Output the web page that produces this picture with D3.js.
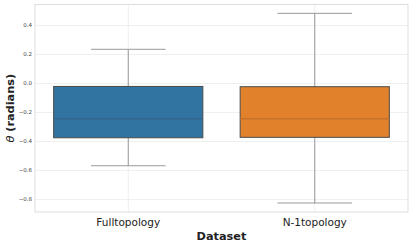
<!DOCTYPE html>
<html>
<head>
<meta charset="utf-8">
<script src="https://cdn.jsdelivr.net/npm/d3@7"></script>
<style>
  body { margin: 0; background: #fff; }
  text { font-family: "DejaVu Sans", sans-serif; }
</style>
</head>
<body>
<div id="chart"></div>
<script>
// data
const datasets = ["Fulltopology", "N-1topology"];
const whiskerLow = [-0.567, -0.824];
const q1 = [-0.374, -0.371];
const medians = [-0.243, -0.243];
const q3 = [-0.02, -0.022];
const whiskerHigh = [0.236, 0.484];
const yTicks = [-0.8, -0.6, -0.4, -0.2, 0.0, 0.2, 0.4];

const fills = ["#3274a1", "#e1812c"];
const medianColors = ["#35668d", "#c5722f"];

const width = 412,
	height = 246,
	margin = { top: 4.5, right: 4, bottom: 34, left: 35 };

const svg = d3
	.select("#chart")
	.append("svg")
	.attr("width", width)
	.attr("height", height);

const x = d3
	.scaleBand()
	.domain(datasets)
	.range([margin.left, width - margin.right])
	.paddingInner(0)
	.paddingOuter(0);

const y = d3
	.scaleLinear()
	.domain([-0.886, 0.545])
	.range([height - margin.bottom, margin.top]);

//GRID
svg
	.append("g")
	.selectAll("line.hgrid")
	.data(yTicks)
	.enter()
	.append("line")
	.attr("x1", margin.left)
	.attr("x2", width - margin.right)
	.attr("y1", d => y(d))
	.attr("y2", d => y(d))
	.style("stroke", "#ebebeb")
	.style("stroke-width", 0.8);

svg
	.append("g")
	.selectAll("line.vgrid")
	.data(datasets)
	.enter()
	.append("line")
	.attr("x1", d => x(d) + x.bandwidth() / 2)
	.attr("x2", d => x(d) + x.bandwidth() / 2)
	.attr("y1", margin.top)
	.attr("y2", height - margin.bottom)
	.style("stroke", "#ebebeb")
	.style("stroke-width", 0.8);

//FRAME
svg
	.append("rect")
	.attr("x", margin.left)
	.attr("y", margin.top)
	.attr("width", width - margin.left - margin.right)
	.attr("height", height - margin.top - margin.bottom)
	.style("fill", "none")
	.style("stroke", "#dddddd")
	.style("stroke-width", 1);

//BOXES
const boxW = x.bandwidth() * 0.8;
const boxes = svg
	.append("g")
	.selectAll("g.box")
	.data(datasets)
	.enter()
	.append("g")
	.attr("class", "box");

boxes.each(function (d, i) {
	const g = d3.select(this);
	const cx = x(d) + x.bandwidth() / 2;

	// whiskers
	g.append("line")
		.attr("x1", cx)
		.attr("x2", cx)
		.attr("y1", y(q3[i]))
		.attr("y2", y(whiskerHigh[i]))
		.style("stroke", "#999999")
		.style("stroke-width", 1);
	g.append("line")
		.attr("x1", cx)
		.attr("x2", cx)
		.attr("y1", y(q1[i]))
		.attr("y2", y(whiskerLow[i]))
		.style("stroke", "#999999")
		.style("stroke-width", 1);

	// caps
	[whiskerLow[i], whiskerHigh[i]].forEach(v => {
		g.append("line")
			.attr("x1", cx - boxW / 4)
			.attr("x2", cx + boxW / 4)
			.attr("y1", y(v))
			.attr("y2", y(v))
			.style("stroke", "#999999")
			.style("stroke-width", 1);
	});

	// box
	g.append("rect")
		.attr("x", cx - boxW / 2)
		.attr("y", y(q3[i]))
		.attr("width", boxW)
		.attr("height", y(q1[i]) - y(q3[i]))
		.style("fill", fills[i])
		.style("stroke", "#4a4a4a")
		.style("stroke-width", 1);

	// median
	g.append("line")
		.attr("x1", cx - boxW / 2)
		.attr("x2", cx + boxW / 2)
		.attr("y1", y(medians[i]))
		.attr("y2", y(medians[i]))
		.style("stroke", medianColors[i])
		.style("stroke-width", 1.5);
});

//Y TICK LABELS
svg
	.append("g")
	.selectAll("text.ytick")
	.data(yTicks)
	.enter()
	.append("text")
	.attr("x", 32)
	.attr("y", d => y(d))
	.attr("dy", "0.35em")
	.attr("text-anchor", "end")
	.style("font-size", "5.5px")
	.style("fill", "#444")
	.text(d => d3.format(".1f")(d).replace("-", "\u2212"));

//X TICK LABELS
svg
	.append("g")
	.selectAll("text.xtick")
	.data(datasets)
	.enter()
	.append("text")
	.attr("x", d => x(d) + x.bandwidth() / 2)
	.attr("y", 226)
	.attr("text-anchor", "middle")
	.style("font-size", "10.5px")
	.style("fill", "#222")
	.text(d => d);

//AXIS TITLES
svg
	.append("text")
	.attr("x", (margin.left + width - margin.right) / 2)
	.attr("y", 239.5)
	.attr("text-anchor", "middle")
	.style("font-size", "11.3px")
	.style("font-weight", "bold")
	.style("fill", "#222")
	.text("Dataset");

const ylab = svg
	.append("text")
	.attr("transform", `translate(14, ${(margin.top + height - margin.bottom) / 2}) rotate(-90)`)
	.attr("text-anchor", "middle")
	.style("font-size", "11.3px")
	.style("font-weight", "bold")
	.style("fill", "#222");
ylab.append("tspan").style("font-style", "italic").style("font-weight", "normal").text("\u03b8");
ylab.append("tspan").text(" (radians)");
</script>
</body>
</html>
